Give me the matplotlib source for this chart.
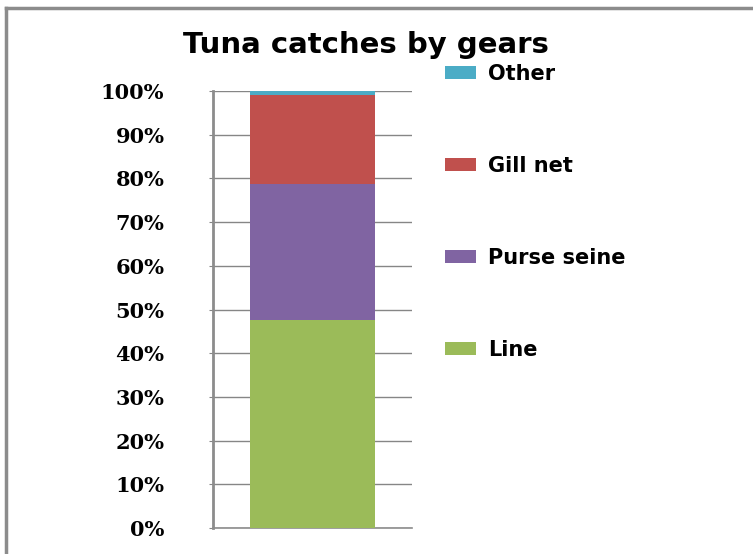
import matplotlib
matplotlib.use("Agg")
import matplotlib.pyplot as plt
from matplotlib.lines import Line2D
from matplotlib.patches import Patch
from matplotlib.ticker import PercentFormatter

# Share of tuna catches by fishing gear (stacked to 100%)
gears = ["Line", "Purse seine", "Gill net", "Other"]
shares = [47.6, 31.1, 20.3, 1.0]
gear_colors = ["#9BBB59", "#8064A2", "#C0504D", "#4BACC6"]
ytick_values = [0, 10, 20, 30, 40, 50, 60, 70, 80, 90, 100]

W, H = 753, 554
fig = plt.figure(figsize=(W / 100, H / 100), dpi=100)
fig.patch.set_facecolor("white")

# chart frame (left and top edges)
fig.add_artist(Line2D([6 / W, 6 / W], [0, 1 - 8 / H], transform=fig.transFigure,
                      color="#8c8c8c", lw=2.5))
fig.add_artist(Line2D([6 / W, 1], [1 - 8 / H, 1 - 8 / H], transform=fig.transFigure,
                      color="#8c8c8c", lw=2.5))

ax = fig.add_axes([213 / W, 26 / H, 199 / W, 437 / H])

bottom = 0
for gear, share, col in zip(gears, shares, gear_colors):
    ax.bar(0, share, width=0.633, bottom=bottom, color=col, label=gear, zorder=3)
    bottom += share

ax.set_xlim(-0.5, 0.5)
ax.set_ylim(0, 100)
ax.set_yticks(ytick_values)
ax.yaxis.set_major_formatter(PercentFormatter(decimals=0))
ax.set_xticks([])
ax.grid(axis="y", color="#868686", lw=1, zorder=0)

for side in ["top", "right"]:
    ax.spines[side].set_visible(False)
ax.spines["left"].set_color("#8c8c8c")
ax.spines["left"].set_linewidth(2)
ax.spines["bottom"].set_color("#8c8c8c")
ax.spines["bottom"].set_linewidth(1.2)

ax.tick_params(axis="y", length=3, color="#868686", pad=32)
for lab in ax.get_yticklabels():
    lab.set_fontfamily("DejaVu Serif")
    lab.set_fontweight("bold")
    lab.set_fontsize(15)

fig.text(366 / W, 1 - 45 / H, "Tuna catches by gears", ha="center", va="center",
         fontsize=21, fontweight="bold", color="black")

handles = [Patch(facecolor=c, label=g) for g, c in zip(gears, gear_colors)][::-1]
ax.legend(handles=handles, loc="upper left",
          bbox_to_anchor=(445 / W, 1 - 64 / H), bbox_transform=fig.transFigure,
          frameon=False, borderpad=0, borderaxespad=0,
          handlelength=1.5, handleheight=0.58, handletextpad=0.55,
          labelspacing=3.46, prop={"weight": "bold", "size": 15})

fig.savefig("out.png", dpi=100, facecolor="white")
